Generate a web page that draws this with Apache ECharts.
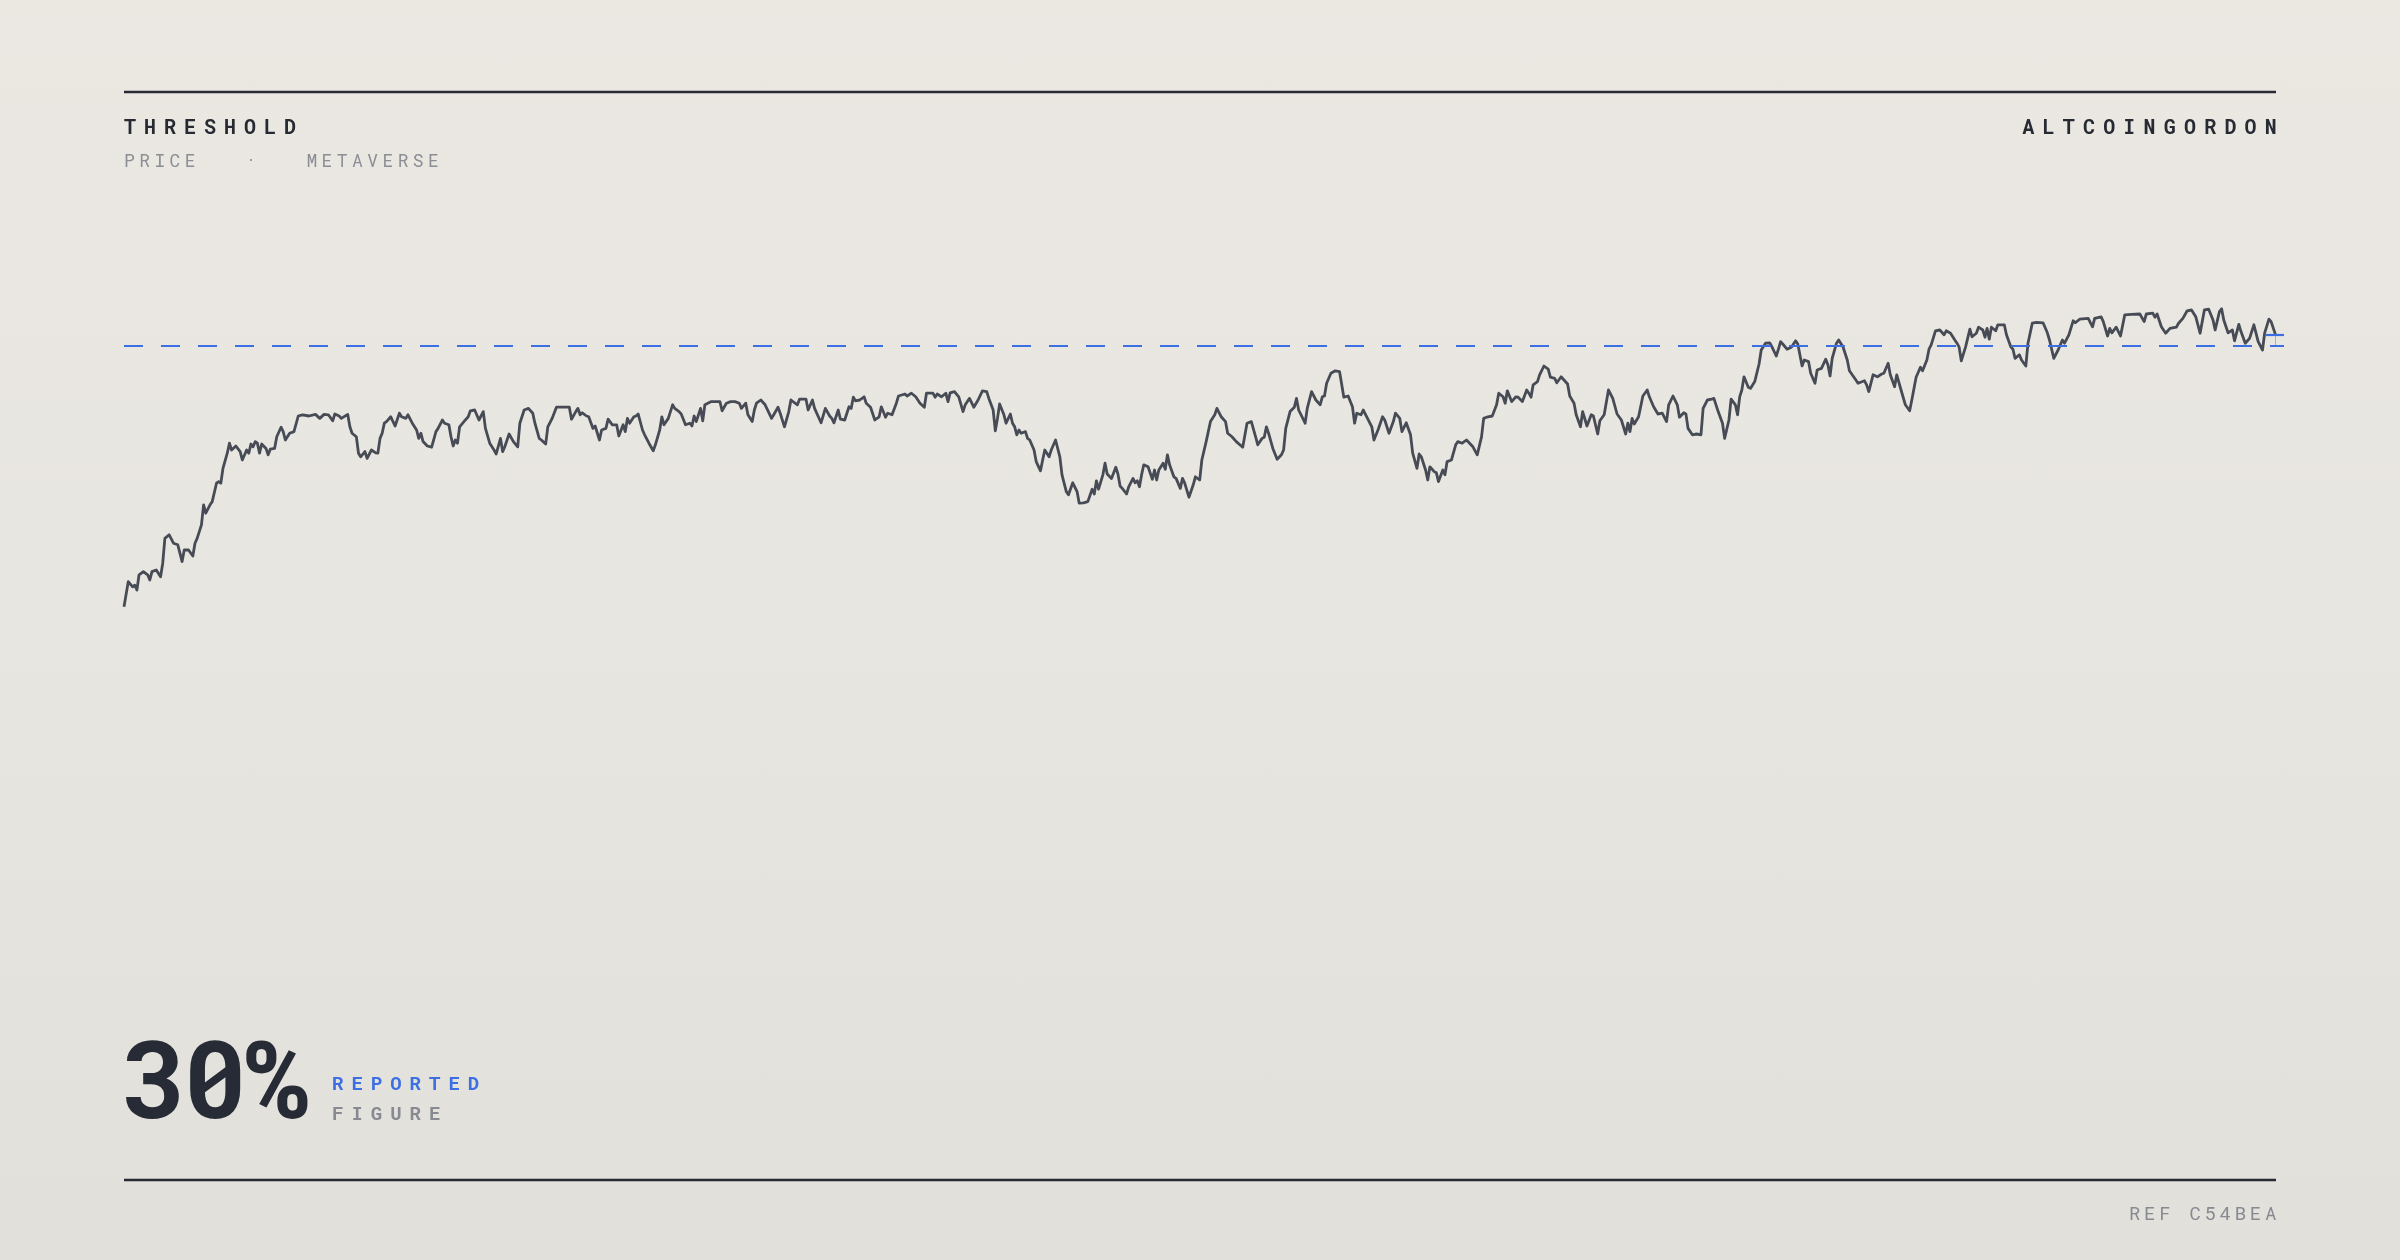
<!DOCTYPE html>
<html>
<head>
<meta charset="utf-8">
<script src="https://cdn.jsdelivr.net/npm/echarts@6/dist/echarts.min.js"></script>
<style>
  html, body { margin: 0; padding: 0; }
  body { width: 2400px; height: 1260px; overflow: hidden; position: relative;
         background: linear-gradient(180deg, #ebe8e2 0%, #e8e6e0 45%, #e1e0db 100%);
         font-family: "Roboto Mono", "Noto Sans Mono", "DejaVu Sans Mono", monospace; }
  #chart { position: absolute; left: 0; top: 0; width: 2400px; height: 1260px; }
  .t { position: absolute; white-space: pre; line-height: 1; margin: 0; z-index: 2; }
</style>
</head>
<body>
<div id="chart"></div>
<div class="t" id="title" style="left:124px; top:116px; font-size:20px; font-weight:bold; letter-spacing:8px; color:#262a33;"></div>
<div class="t" id="brand" style="right:115px; top:116px; font-size:20px; font-weight:bold; letter-spacing:8.2px; color:#262a33;"></div>
<div class="t" id="subtitle" style="left:124px; top:151px; font-size:18px; letter-spacing:4.4px; color:#8b8e95;"></div>
<div class="t" id="big" style="left:121px; top:1022px; font-size:108px; font-weight:bold; letter-spacing:-3px; color:#272b35;"></div>
<div class="t" id="lab1" style="left:332px; top:1073px; font-size:19px; font-weight:bold; letter-spacing:8px; color:#3b6fe3;"></div>
<div class="t" id="lab2" style="left:332px; top:1103px; font-size:19px; font-weight:bold; letter-spacing:8px; color:#878a91;"></div>
<div class="t" id="ref" style="right:120px; top:1203px; font-size:19px; letter-spacing:3.7px; color:#878a91;"></div>
<script>
// ---- text ----
const TITLE = "THRESHOLD";
const BRAND = "ALTCOINGORDON";
const SUBTITLE = "PRICE   \u00b7   METAVERSE";
const BIG_FIGURE = "30%";
const FIG_LABEL_1 = "REPORTED";
const FIG_LABEL_2 = "FIGURE";
const REF = "REF C54BEA";

// ---- data: [time index, price] ----
const THRESHOLD = 88.5;
const seg1 = [[0,23.3],[2,29.6],[4,28.3],[5,28.7],[6,27.5],[7,31.3],[9,32.1],[11,31.3],[12,30.0],[13,32.1],[15,32.5],[17,30.8],[18,34.2],[19,40.4],[21,41.3],[23,39.2],[25,38.8],[26,36.7],[27,34.6],[28,37.5],[30,37.5],[32,36.0],[33,39.2],[34,40.4],[36,43.8],[37,48.8],[38,46.7],[40,48.8],[41,49.6],[43,54.2],[44,54.6],[45,54.2],[46,57.9],[48,61.7],[49,64.2],[50,62.5],[52,63.5],[54,62.1],[55,60.0],[57,62.5],[58,61.7],[59,64.0],[60,63.3],[61,64.6],[62,64.2],[63,61.7],[64,64.0],[66,62.9],[67,61.3],[68,62.7],[70,62.9],[71,65.8],[73,68.2],[74,67.1],[75,65.0],[77,66.7],[79,67.1],[81,71.0],[83,71.3],[86,71.0],[89,71.4],[91,70.4],[93,71.4],[95,71.3],[97,69.8],[98,71.5],[100,71.0],[101,70.4],[104,71.4],[105,68.3],[106,66.7],[108,65.8],[109,61.7],[110,60.8],[112,62.1],[113,60.4],[115,62.5],[117,61.8],[118,61.7],[119,65.4],[120,66.7],[121,69.2],[122,69.6],[124,70.8],[126,68.5],[128,71.7],[129,70.8],[131,70.4],[132,71.3],[134,69.2],[136,67.5],[137,65.4],[138,66.7],[139,64.6],[141,63.5],[143,63.2]];
const seg2 = [[145,67.1],[146,67.9],[148,70.0],[149,69.2],[151,68.8],[152,65.8],[153,63.5],[154,65.0],[155,64.2],[156,68.3],[158,69.6],[160,70.8],[161,72.3],[163,72.5],[165,70.0],[167,72.1],[168,67.9],[170,64.2],[172,62.5],[173,61.5],[175,65.4],[176,62.1],[177,63.3],[179,66.5],[181,64.6],[183,63.3],[184,69.2],[186,72.5],[188,72.9],[190,71.7],[191,69.2],[193,65.4],[194,65.0],[196,64.0],[197,68.3],[199,70.4],[201,73.2],[204,73.2],[207,73.2],[208,70.2],[210,72.1],[211,72.9],[212,71.3],[213,71.8],[215,71.0],[216,70.8],[218,67.9],[219,68.5],[221,65.0],[222,67.5],[224,67.9],[225,70.2],[227,68.8],[229,68.8],[230,66.0],[232,68.8],[233,67.1],[234,70.4],[235,69.2],[237,70.8],[238,71.0],[239,71.5],[241,67.5],[242,66.3],[244,64.2],[246,62.3],[247,63.8],[249,67.5],[250,70.8],[251,68.8],[253,70.4],[255,73.8],[256,72.9],[258,72.1],[259,71.5],[261,68.8],[263,69.2],[264,68.5],[265,71.0],[266,69.6],[268,72.9],[269,69.8],[270,73.8],[273,74.6],[275,74.6],[277,74.6],[278,72.3],[280,74.2],[282,74.6]];
const seg3 = [[284,74.6],[286,74.2],[287,72.9],[289,74.2],[290,71.3],[292,69.6],[293,72.5],[294,74.2],[296,75.0],[298,73.8],[301,70.4],[302,71.3],[304,73.2],[305,71.7],[307,68.3],[309,72.1],[310,75.0],[313,73.8],[314,75.2],[317,75.2],[318,72.5],[320,75.0],[321,72.9],[324,69.3],[326,72.9],[328,71.0],[329,70.4],[330,69.3],[332,72.5],[333,70.2],[335,70.0],[337,73.3],[338,72.9],[339,75.7],[340,74.8],[342,75.0],[344,75.8],[345,74.2],[347,73.2],[349,70.0],[351,70.8],[352,73.3],[354,70.7],[355,71.7],[357,71.3],[359,74.2],[360,76.0],[363,76.5],[364,76.0],[366,76.7],[368,75.8],[370,74.2],[372,73.2],[373,76.7],[376,76.7],[377,75.7],[378,76.5],[380,75.8],[382,76.7],[383,74.6],[384,76.8],[386,77.1],[388,75.8],[390,72.1],[391,73.8],[393,75.4],[395,73.2],[397,75.0],[399,77.3],[401,77.1],[402,75.4],[404,72.5],[405,67.3],[406,70.4],[407,74.0],[409,71.3],[410,69.2],[412,71.5],[413,69.2],[414,68.3],[415,66.3],[416,67.5],[417,66.7],[419,67.1],[420,65.4],[421,65.0],[423,62.5],[424,59.6],[426,57.3],[427,60.0]];
const seg4 = [[428,62.5],[430,60.8],[431,62.5],[433,65.0],[435,60.8],[436,56.3],[438,52.1],[439,51.3],[441,54.3],[443,52.1],[444,49.2],[446,49.3],[448,49.6],[450,52.7],[451,51.5],[452,54.8],[453,52.7],[455,56.3],[456,59.2],[457,56.5],[459,55.4],[461,58.2],[462,56.5],[463,53.5],[464,52.9],[466,51.5],[467,53.3],[469,55.4],[470,54.3],[471,54.8],[472,53.3],[473,56.3],[474,58.8],[476,58.3],[478,55.2],[479,57.5],[480,55.0],[481,57.5],[483,59.2],[484,57.7],[485,61.3],[486,58.8],[488,55.8],[489,55.4],[491,52.9],[492,55.4],[493,54.3],[495,50.7],[497,53.8],[498,55.8],[500,55.0],[501,60.0],[503,64.6],[505,69.6],[507,71.3],[508,72.9],[510,70.8],[512,69.6],[513,66.7],[515,65.8],[517,64.6],[520,63.2],[522,69.2],[524,69.6],[526,65.8],[527,63.8],[529,65.4],[530,65.7],[531,68.3],[532,66.7],[534,62.9],[536,60.2],[538,61.3],[539,62.5],[540,67.9],[542,72.1],[544,73.2],[545,75.4],[546,72.5],[549,69.2],[550,72.9],[552,77.1],[554,75.0],[556,73.8],[557,75.8],[558,76.0],[559,79.2],[561,81.7],[563,82.3],[565,82.1],[567,75.7],[569,76.0],[571,73.3]];
const seg5 = [[572,69.2],[573,71.7],[575,71.3],[576,72.5],[578,70.4],[580,68.3],[581,65.0],[583,67.7],[585,70.8],[586,70.0],[588,66.7],[590,69.6],[591,71.7],[593,70.4],[594,67.1],[596,69.3],[598,66.3],[599,61.7],[601,57.9],[602,61.5],[603,60.8],[605,57.5],[606,55.0],[607,58.3],[609,57.1],[610,56.8],[611,54.6],[613,57.5],[614,56.3],[615,59.6],[617,60.0],[619,63.8],[620,64.6],[622,64.2],[624,65.0],[627,63.3],[629,61.3],[631,65.8],[632,70.4],[634,70.8],[636,71.0],[638,73.8],[639,76.7],[641,75.8],[642,74.2],[643,77.3],[645,74.6],[647,75.8],[648,75.7],[650,74.6],[652,77.5],[653,76.7],[654,75.7],[655,78.8],[657,79.6],[658,81.3],[660,83.5],[662,82.7],[663,80.7],[665,80.4],[666,79.3],[668,80.8],[669,80.2],[671,79.0],[672,76.0],[674,74.2],[675,71.3],[677,68.3],[678,72.1],[680,68.5],[682,71.3],[683,71.0],[685,66.5],[686,69.8],[688,71.3],[690,77.5],[692,75.4],[694,71.5],[696,70.0],[698,66.5],[699,69.2],[700,67.1],[701,70.4],[702,69.0],[704,70.8],[706,76.0],[708,77.5],[709,75.8],[711,73.3],[713,71.5],[715,71.7]];
const seg6 = [[717,69.6],[718,73.8],[720,76.0],[722,73.8],[723,70.7],[725,71.8],[726,71.5],[727,67.9],[729,66.3],[731,66.5],[733,66.3],[734,72.9],[736,75.0],[738,75.2],[739,75.4],[741,72.1],[743,69.2],[744,65.4],[746,70.0],[747,75.2],[749,73.8],[750,71.3],[751,75.8],[752,77.5],[753,80.8],[755,78.2],[756,77.9],[758,79.6],[760,84.0],[761,87.5],[763,89.2],[765,89.3],[766,88.3],[768,86.0],[769,87.7],[770,89.6],[771,89.0],[773,87.7],[775,88.2],[777,89.8],[778,89.0],[780,83.5],[781,85.0],[783,84.6],[784,81.7],[786,79.2],[787,82.5],[789,82.9],[791,85.2],[792,83.8],[793,81.0],[794,85.4],[796,89.2],[797,90.0],[799,88.3],[801,85.0],[802,82.3],[805,80.0],[806,79.2],[809,79.8],[810,78.8],[811,77.1],[813,81.3],[815,80.8],[817,81.5],[818,81.7],[820,84.2],[821,81.3],[823,78.3],[824,81.3],[826,77.5],[828,73.8],[830,72.3],[831,75.0],[833,80.7],[835,83.2],[836,82.3],[838,85.0],[839,87.7],[840,88.8],[842,92.3],[844,92.5],[846,91.3],[847,92.3],[849,91.7],[851,90.0],[852,89.2],[853,88.2],[854,84.8],[856,88.3],[858,92.7],[859,90.8]];
const seg7 = [[861,91.7],[862,93.2],[864,92.5],[865,90.7],[866,92.9],[867,90.2],[868,93.2],[870,92.3],[871,93.8],[874,93.8],[875,91.3],[877,88.3],[878,87.7],[879,85.4],[881,86.3],[882,85.0],[884,83.5],[885,89.2],[887,94.2],[889,94.4],[892,94.3],[894,91.8],[895,90.0],[897,85.4],[899,87.5],[901,90.0],[902,89.2],[904,91.3],[906,94.8],[907,94.3],[909,95.2],[913,95.4],[915,93.3],[916,95.4],[919,95.8],[920,94.6],[922,91.0],[923,92.9],[924,91.8],[926,93.2],[928,91.0],[930,96.3],[933,96.4],[937,96.5],[939,94.6],[940,96.5],[943,96.7],[944,95.7],[945,96.5],[947,93.3],[949,91.7],[951,92.9],[954,93.2],[955,94.2],[957,95.4],[959,97.3],[961,97.5],[963,95.8],[965,91.7],[967,97.5],[969,97.7],[971,95.0],[972,92.5],[974,97.1],[975,97.8],[976,95.0],[978,91.8],[980,92.5],[981,89.8],[983,93.9],[984,92.1],[986,89.2],[988,90.4],[990,93.8],[992,89.6],[994,87.5],[995,91.7],[997,95.2],[998,94.6],[1000,91.4]];

const pricePoints = [].concat(seg1, seg2, seg3, seg4, seg5, seg6, seg7);
const lastPoint = pricePoints[pricePoints.length - 1];
const X_MAX = 1004;

document.getElementById('title').textContent = TITLE;
document.getElementById('brand').textContent = BRAND;
document.getElementById('subtitle').textContent = SUBTITLE;
document.getElementById('big').textContent = BIG_FIGURE;
document.getElementById('lab1').textContent = FIG_LABEL_1;
document.getElementById('lab2').textContent = FIG_LABEL_2;
document.getElementById('ref').textContent = REF;

const chart = echarts.init(document.getElementById('chart'), null, { renderer: 'canvas' });
chart.setOption({
  animation: false,
  backgroundColor: 'transparent',
  grid: { left: 124, right: 116, top: 300, height: 400 },
  xAxis: { type: 'value', min: 0, max: X_MAX, show: false },
  yAxis: { type: 'value', min: 0, max: 100, show: false },
  series: [{
    type: 'line',
    data: pricePoints,
    symbol: 'none',
    showSymbol: false,
    lineStyle: { color: '#474b55', width: 2.8, join: 'round' },
    markLine: {
      silent: true,
      symbol: 'none',
      label: { show: false },
      emphasis: { disabled: true },
      data: [
        { yAxis: THRESHOLD, lineStyle: { color: '#3b6fe3', width: 2.2, type: [19, 18], opacity: 1 } },
        [ { coord: [lastPoint[0] - 4.8, lastPoint[1]], lineStyle: { color: '#3b6fe3', width: 2.2, type: 'solid', opacity: 1 } },
          { coord: [X_MAX, lastPoint[1]] } ],
        [ { coord: [lastPoint[0], lastPoint[1]], lineStyle: { color: '#3b6fe3', width: 1, type: 'solid', opacity: 0.45 } },
          { coord: [lastPoint[0], THRESHOLD] } ]
      ]
    }
  }],
  graphic: [
    { type: 'line', shape: { x1: 124, y1: 92, x2: 2276, y2: 92 }, style: { stroke: '#262a33', lineWidth: 2.5 } },
    { type: 'line', shape: { x1: 124, y1: 1180, x2: 2276, y2: 1180 }, style: { stroke: '#262a33', lineWidth: 2.5 } }
  ]
});
</script>
</body>
</html>
